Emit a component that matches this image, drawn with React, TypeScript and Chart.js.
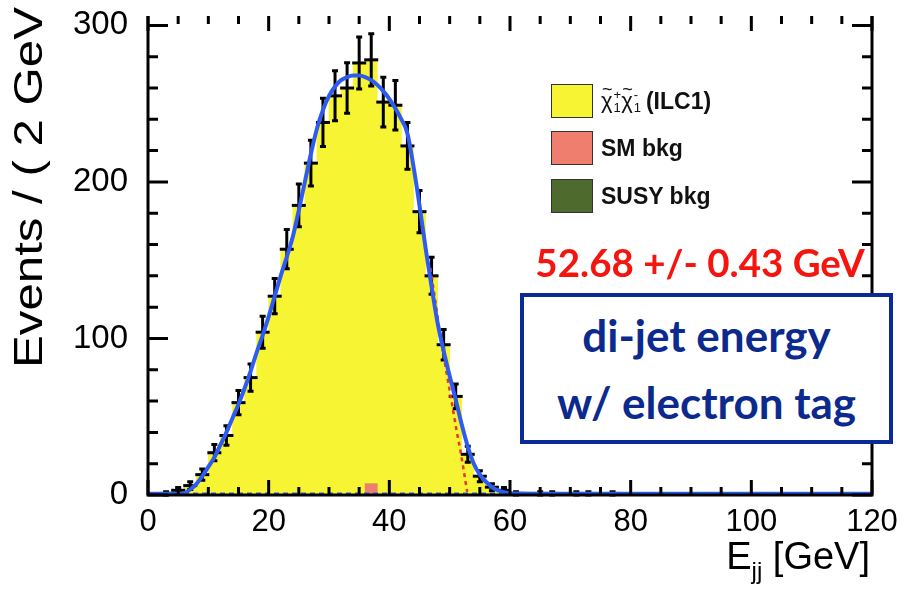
import React, { useEffect, useRef } from 'react';
import { Chart, registerables } from 'chart.js';

Chart.register(...registerables);

// ---------------- data ----------------
const binCenters = [1, 3, 5, 7, 9, 11, 13, 15, 17, 19, 21, 23, 25, 27, 29, 31, 33, 35, 37, 39, 41, 43, 45, 47, 49, 51, 53, 55, 57, 59, 61, 63, 65, 67, 69, 71, 73, 75, 77, 79, 81];
const dataCounts = [0, 1, 3, 6, 13, 27, 38, 59, 75, 104, 127, 157, 185, 212, 238, 255, 260, 276, 278, 251, 249, 223, 181, 140, 96, 63, 26, 12, 5, 3, 1, 0, 1, 1, 0, 1, 1, 0, 1, 0, 0];
const signalCounts = [0, 1, 3, 6, 13, 27, 38, 59, 75, 104, 127, 157, 185, 212, 238, 255, 260, 276, 271, 251, 249, 223, 181, 140, 96, 63, 26, 12, 5, 3, 1, 0, 1, 1, 0, 1, 1, 0, 1, 0, 0];
const smBkgCounts = [0, 0, 0, 0, 0, 0, 0, 0, 0, 0, 0, 0, 0, 0, 0, 0, 0, 0, 7, 0, 0, 0, 0, 0, 0, 0, 0, 0, 0, 0, 0, 0, 0, 0, 0, 0, 0, 0, 0, 0, 0];
const susyBkgCounts = [0, 0, 0, 0, 0, 0, 0, 0, 0, 0, 0, 0, 0, 0, 0, 0, 0, 0, 0, 0, 0, 0, 0, 0, 0, 0, 0, 0, 0, 0, 0, 0, 0, 0, 0, 0, 0, 0, 0, 0, 0];

const fitE = [0, 4, 5, 6, 7, 8, 9, 10, 11, 12, 13, 14, 15, 16, 17, 18, 19, 20, 21, 22, 23, 24, 25, 26, 27, 28, 29, 30, 31, 32, 33, 34, 35, 36, 37, 38, 39, 40, 41, 42, 43, 44, 45, 46, 47, 48, 49, 50, 51, 52, 53, 54, 55, 56, 57, 58, 59, 60, 62, 65, 120];
const fitY = [0.8, 0.8, 0.8, 1.2, 3.5, 7, 12, 18, 24, 32, 40, 49, 58, 68, 79, 91, 102, 114, 127, 140, 152, 165, 182, 200, 218, 234, 246, 255, 261, 265, 267, 268, 268, 267, 265, 262, 258, 253, 247, 240, 231, 210, 185, 158, 133, 110, 92, 76, 61, 45, 31, 20, 13, 8.5, 5, 3, 1.8, 1.2, 0.9, 0.8, 0.8];

const edgeFitE = [46.8, 47.5, 48.4, 49.4, 50.4, 51.2, 51.8, 52.4, 52.9];
const edgeFitY = [145, 127, 103, 80, 58, 40, 28, 14, 2];

const bkgFitE = [0, 120];
const bkgFitY = [1, 1];

const xTicks = [0, 20, 40, 60, 80, 100, 120];
const yTicks = [0, 100, 200, 300];

// ---------------- styling ----------------
const YELLOW = '#f7f433';
const SALMON = '#ef7e6f';
const GREEN = '#4e6a2c';
const BLUE = '#2f5cf0';
const RED = '#e8352a';

const framePlugin = {
  id: 'rootFrame',
  afterDatasetDraw(chart: any, args: any) {
    if (args.index !== 3) return;
    const { ctx, scales } = chart;
    const xs = scales.x;
    const ys = scales.y;
    ctx.save();
    ctx.strokeStyle = '#000';
    ctx.lineWidth = 3;
    ctx.beginPath();
    binCenters.forEach((e, i) => {
      const v = dataCounts[i];
      if (v <= 0) return;
      const err = Math.sqrt(v);
      const px = xs.getPixelForValue(e);
      const y1 = ys.getPixelForValue(v - err);
      const y2 = ys.getPixelForValue(v + err);
      ctx.moveTo(px, y1);
      ctx.lineTo(px, y2);
      ctx.moveTo(px - 3, y1);
      ctx.lineTo(px + 3, y1);
      ctx.moveTo(px - 3, y2);
      ctx.lineTo(px + 3, y2);
    });
    ctx.stroke();
    ctx.restore();
  },
  afterDatasetsDraw(chart: any) {
    const { ctx, chartArea: a, scales } = chart;
    const xs = scales.x;
    const ys = scales.y;
    ctx.save();
    ctx.strokeStyle = '#000';
    ctx.lineWidth = 3;
    ctx.beginPath();
    ctx.moveTo(a.left, a.top);
    ctx.lineTo(a.left, a.bottom);
    ctx.lineTo(a.right, a.bottom);
    ctx.lineTo(a.right, a.top);
    ctx.stroke();
    ctx.beginPath();
    for (let v = 0; v <= 120; v += 5) {
      const px = xs.getPixelForValue(v);
      const len = v % 20 === 0 ? 15 : 8;
      ctx.moveTo(px, a.bottom);
      ctx.lineTo(px, a.bottom - len);
      ctx.moveTo(px, a.top);
      ctx.lineTo(px, a.top + len);
    }
    for (let v = 0; v <= 300; v += 20) {
      const py = ys.getPixelForValue(v);
      const len = v % 100 === 0 ? 20 : 10;
      ctx.moveTo(a.left, py);
      ctx.lineTo(a.left + len, py);
      ctx.moveTo(a.right, py);
      ctx.lineTo(a.right - len, py);
    }
    ctx.stroke();
    ctx.restore();
  },
};

function Chi({ sign }: { sign: string }) {
  return (
    <span style={{ fontWeight: 'normal', display: 'inline-flex', alignItems: 'center' }}>
      <span style={{ position: 'relative', display: 'inline-block', fontSize: 22 }}>
        χ
        <span style={{ position: 'absolute', left: 1, top: -9, fontSize: 18 }}>~</span>
      </span>
      <span style={{ display: 'inline-flex', flexDirection: 'column', fontSize: 13, lineHeight: '13px', marginLeft: 1 }}>
        <span>{sign}</span>
        <span>1</span>
      </span>
    </span>
  );
}

export default function App() {
  const ref = useRef<HTMLCanvasElement | null>(null);

  useEffect(() => {
    document.body.style.margin = '0';
    const canvas = ref.current;
    if (!canvas) return;
    Chart.defaults.font.family = "'Liberation Sans', Arial, sans-serif";
    const pts = (xs: number[], ys: number[]) => xs.map((x, i) => ({ x, y: ys[i] }));
    const chart = new Chart(canvas, {
      type: 'bar',
      data: {
        datasets: [
          {
            type: 'line',
            label: 'fit',
            data: pts(fitE, fitY),
            borderColor: BLUE,
            borderWidth: 4,
            pointRadius: 0,
            cubicInterpolationMode: 'monotone',
            stack: 'fit',
            order: 0,
          } as any,
          {
            type: 'line',
            label: 'edge fit',
            data: pts(edgeFitE, edgeFitY),
            borderColor: RED,
            borderWidth: 2.5,
            borderDash: [4, 4],
            pointRadius: 0,
            cubicInterpolationMode: 'monotone',
            stack: 'edge',
            order: 0,
          } as any,
          {
            type: 'line',
            label: 'bkg fit',
            data: pts(bkgFitE, bkgFitY),
            borderColor: BLUE,
            borderWidth: 2,
            borderDash: [5, 4],
            pointRadius: 0,
            stack: 'bkgfit',
            order: 0,
          } as any,
          {
            type: 'scatter',
            label: 'data',
            data: pts(binCenters, dataCounts),
            pointStyle: 'line',
            pointRadius: 7,
            borderWidth: 3,
            borderColor: '#000',
            backgroundColor: '#000',
            stack: 'data',
            order: 1,
          } as any,
          {
            type: 'bar',
            label: 'SM bkg',
            data: pts(binCenters, smBkgCounts),
            backgroundColor: SALMON,
            borderWidth: 0,
            barPercentage: 1,
            categoryPercentage: 1,
            stack: 'hist',
            order: 2,
          } as any,
          {
            type: 'bar',
            label: 'SUSY bkg',
            data: pts(binCenters, susyBkgCounts),
            backgroundColor: GREEN,
            borderWidth: 0,
            barPercentage: 1,
            categoryPercentage: 1,
            stack: 'hist',
            order: 2,
          } as any,
          {
            type: 'bar',
            label: 'signal',
            data: pts(binCenters, signalCounts),
            backgroundColor: YELLOW,
            borderWidth: 0,
            barPercentage: 1,
            categoryPercentage: 1,
            stack: 'hist',
            order: 2,
          } as any,
        ],
      },
      options: {
        animation: false,
        responsive: false,
        devicePixelRatio: 1,
        layout: { padding: { top: 16, right: 30, left: 0, bottom: 0 } },
        plugins: { legend: { display: false }, tooltip: { enabled: false } },
        scales: {
          x: {
            type: 'linear',
            min: 0,
            max: 120,
            offset: false,
            stacked: true,
            grid: { display: false, drawTicks: false },
            border: { display: false },
            afterBuildTicks: (s: any) => { s.ticks = xTicks.map((value) => ({ value })); },
            afterFit: (s: any) => { s.height = 97; s.paddingLeft = 0; s.paddingRight = 0; },
            ticks: { color: '#000', font: { size: 31 }, padding: 9, maxRotation: 0, autoSkip: false },
          },
          y: {
            type: 'linear',
            min: 0,
            max: 306,
            stacked: true,
            grid: { display: false, drawTicks: false },
            border: { display: false },
            afterBuildTicks: (s: any) => { s.ticks = yTicks.map((value) => ({ value })); },
            afterFit: (s: any) => { s.width = 148; s.paddingTop = 0; s.paddingBottom = 0; },
            ticks: { color: '#000', font: { size: 33 }, padding: 20 },
          },
        },
      } as any,
      plugins: [framePlugin],
    });
    return () => chart.destroy();
  }, []);

  const legendRows = [
    { color: YELLOW, top: 84, label: <><Chi sign="+" /><Chi sign="-" /><span style={{ marginLeft: 5 }}>(ILC1)</span></> },
    { color: SALMON, top: 131, label: <>SM bkg</> },
    { color: GREEN, top: 179, label: <>SUSY bkg</> },
  ];

  return (
    <div style={{ position: 'fixed', left: 0, top: 0, width: 902, height: 592, background: '#fff', overflow: 'hidden', fontFamily: "'Liberation Sans', Arial, sans-serif" }}>
      <canvas ref={ref} width={902} height={592} style={{ position: 'absolute', left: 0, top: 0, width: 902, height: 592 }} />
      {/* y-axis title */}
      <div style={{ position: 'absolute', left: 8, top: 368, transformOrigin: '0 0', transform: 'rotate(-90deg) scale(1.23, 1)', whiteSpace: 'nowrap', fontSize: 40, lineHeight: '40px', color: '#000' }}>
        Events / ( 2 GeV )
      </div>
      {/* x-axis title */}
      <div style={{ position: 'absolute', right: 32, top: 536, whiteSpace: 'nowrap', fontSize: 38, lineHeight: '40px', color: '#000' }}>
        E<sub style={{ fontSize: 24, verticalAlign: '-10px' }}>jj</sub> [GeV]
      </div>
      {/* legend */}
      {legendRows.map((r, i) => (
        <div key={i} style={{ position: 'absolute', left: 551, top: r.top, height: 34, display: 'flex', alignItems: 'center', whiteSpace: 'nowrap' }}>
          <div style={{ width: 40, height: 32, background: r.color, border: '1px solid #333' }} />
          <div style={{ marginLeft: 8, fontSize: 23, fontWeight: 'bold', color: '#111', display: 'flex', alignItems: 'center' }}>{r.label}</div>
        </div>
      ))}
      {/* fit result */}
      <div style={{ position: 'absolute', left: 500, width: 400, top: 238, textAlign: 'center', fontFamily: 'Lato, sans-serif', fontWeight: 'bold', fontSize: 38.5, lineHeight: '48px', color: '#f5150f', whiteSpace: 'nowrap' }}>
        52.68 +/- 0.43 GeV
      </div>
      {/* annotation box */}
      <div style={{ position: 'absolute', left: 520, top: 293, width: 365, height: 143, border: '4px solid #0b2a9a', background: '#fff', display: 'flex', flexDirection: 'column', alignItems: 'center', justifyContent: 'center', fontFamily: 'Lato, sans-serif', fontWeight: 'bold', fontSize: 44, lineHeight: '67px', color: '#0c2a8e' }}>
        <div>di-jet energy</div>
        <div>w/ electron tag</div>
      </div>
    </div>
  );
}
